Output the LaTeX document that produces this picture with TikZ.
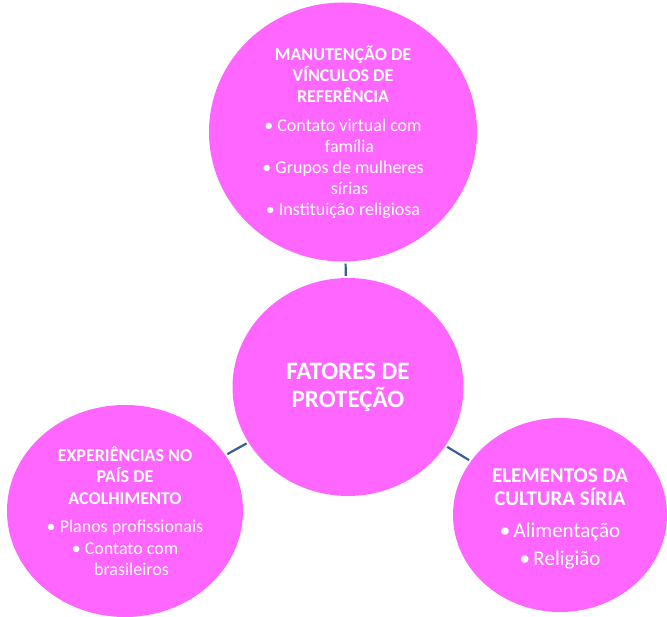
\documentclass[tikz,border=0pt]{standalone}
\usepackage{fontspec}
\setmainfont{Carlito}
\usetikzlibrary{shapes.geometric}
\definecolor{rosa}{RGB}{255,102,255}
\definecolor{azul}{RGB}{59,94,145}
\newcommand{\marca}{\textbullet\ }
\newcommand{\recuo}{\hphantom{\textbullet\ }}

\begin{document}
\begin{tikzpicture}[x=1pt,y=-1pt,
  bolha/.style={ellipse,fill=rosa,text=white,inner sep=0pt,align=center},
  liga/.style={draw=azul,line width=2.2pt,shorten <=2pt,shorten >=2pt}]
\useasboundingbox (0,0) rectangle (667,617);
% Circles
\node[bolha,minimum width=268,minimum height=259,font=\fontsize{18}{21}\selectfont] (vinculos) at (343,132)
  {\textbf{MANUTENÇÃO DE}\\\textbf{VÍNCULOS DE}\\\textbf{REFERÊNCIA}\\[8pt]
   \marca Contato virtual com\\\recuo família\\\marca Grupos de mulheres\\\recuo sírias\\\marca Instituição religiosa};
\node[bolha,minimum width=231,minimum height=218,font=\fontsize{25}{28}\selectfont] (fatores) at (348,387)
  {\textbf{FATORES DE}\\\textbf{PROTEÇÃO}};
\node[bolha,minimum width=236,minimum height=212,font=\fontsize{18}{21.5}\selectfont] (experiencias) at (125,511)
  {\textbf{EXPERIÊNCIAS NO}\\\textbf{PAÍS DE}\\\textbf{ACOLHIMENTO}\\[7pt]
   \marca Planos profissionais\\\marca Contato com\\\recuo brasileiros};
\node[bolha,minimum width=214,minimum height=194,font=\fontsize{21}{23}\selectfont] (elementos) at (560,515)
  {\rule{0pt}{22pt}\textbf{ELEMENTOS DA}\\\textbf{CULTURA SÍRIA}\\[9pt]
   \textbullet\,Alimentação\\[5pt]\textbullet\,Religião};
% Connectors
\draw[liga] (vinculos) -- (fatores);
\draw[liga] (fatores) -- (experiencias);
\draw[liga] (fatores) -- (elementos);
\end{tikzpicture}
\end{document}
